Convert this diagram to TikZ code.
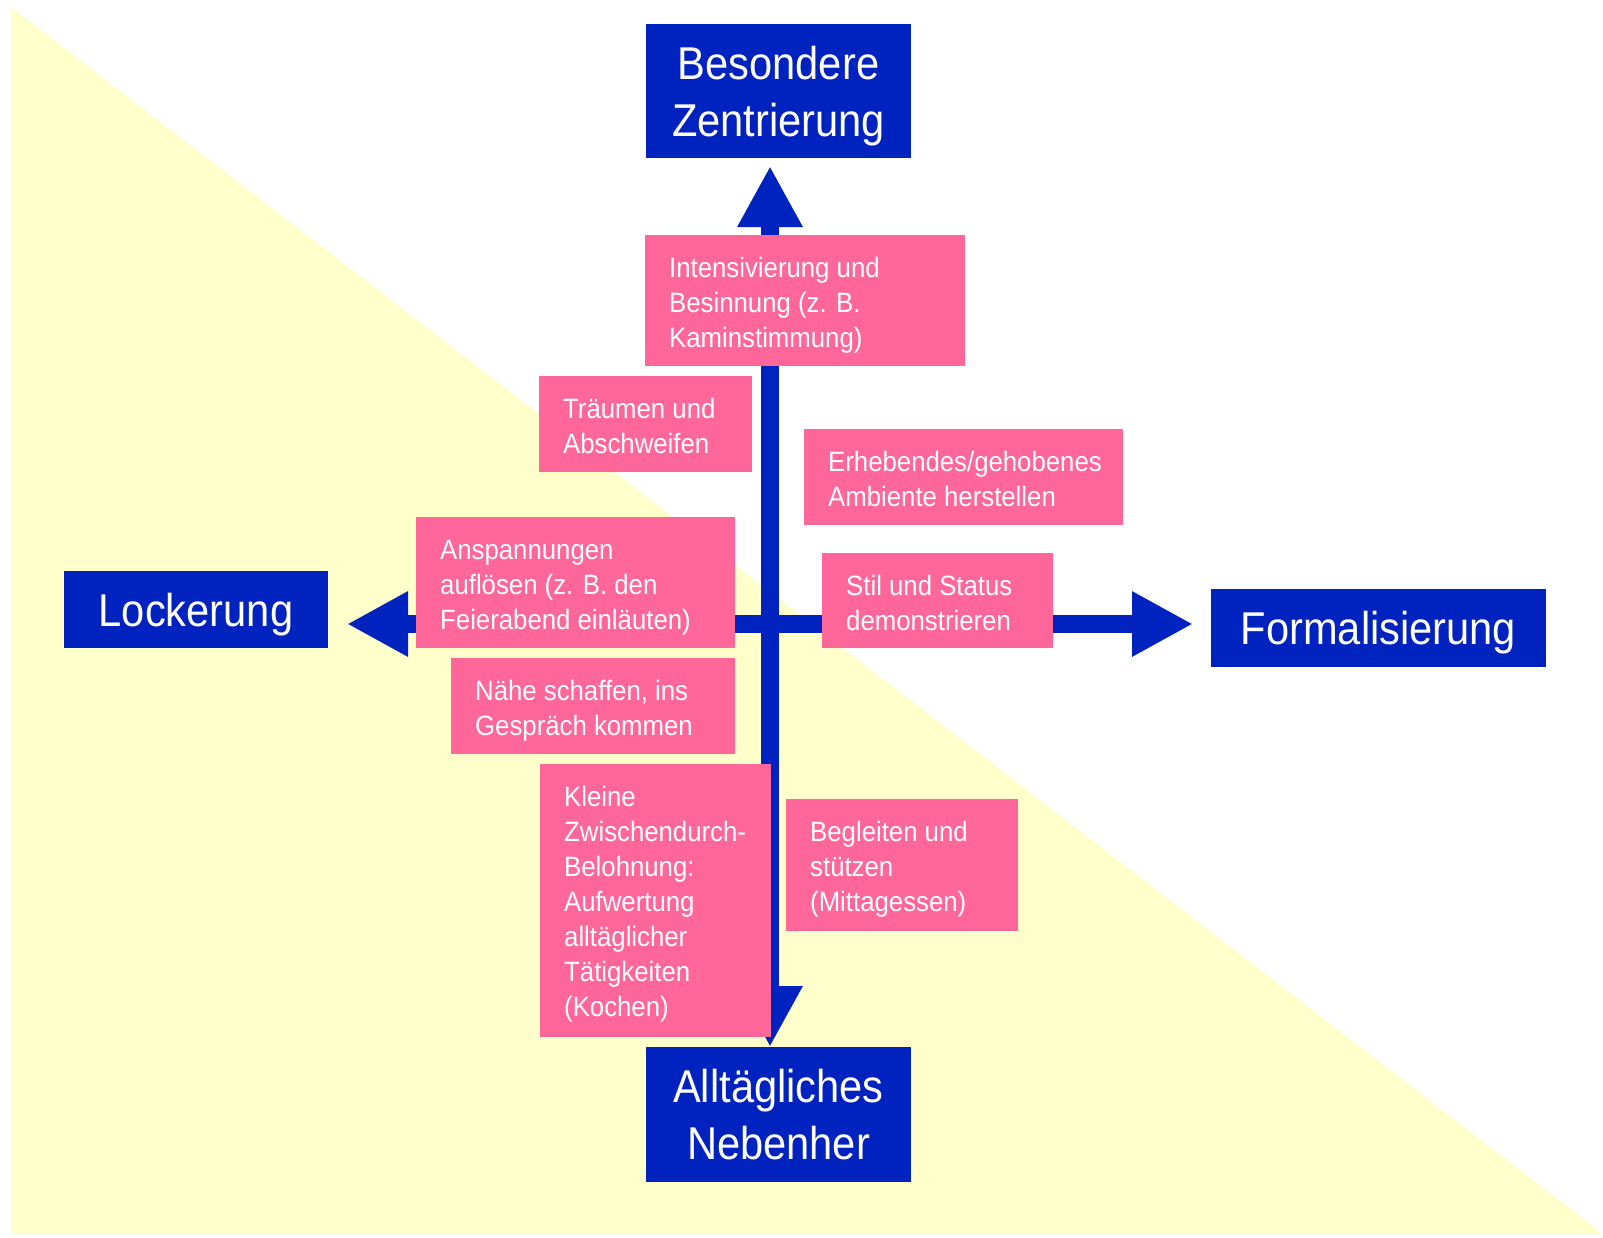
\documentclass[tikz,border=0pt]{standalone}
\usepackage{fontspec}
\setmainfont{Liberation Sans}
\newfontfamily\boxfont{Liberation Sans}[FakeStretch=0.92]
\newfontfamily\polefont{Liberation Sans}[FakeStretch=0.905]
\usetikzlibrary{arrows.meta}
\definecolor{poleblue}{RGB}{0,34,190}
\definecolor{notepink}{RGB}{255,102,153}
\definecolor{paleyellow}{RGB}{255,255,204}
% lines of a note, aligned on the baseline of the first line
\newcommand\notelines[1]{\begin{tabular}[t]{@{}l@{}}#1\end{tabular}}
\tikzset{
  pole/.style={fill=poleblue, text=white, align=center, inner sep=0pt,
    text depth=0pt, font=\polefont\fontsize{46}{57}\selectfont},
  notebox/.style={fill=notepink, inner sep=0pt, anchor=north west},
  notetext/.style={text=white, inner sep=0pt, anchor=base west,
    font=\boxfont\fontsize{28}{35}\selectfont},
  axis/.style={draw=poleblue, line width=18pt,
    {Triangle[length=61pt,width=61pt]}-{Triangle[length=61pt,width=61pt]}},
}
\begin{document}
\begin{tikzpicture}[x=1pt,y=-1pt]
  \useasboundingbox (0,0) rectangle (1603,1237);
  \fill[white] (0,0) rectangle (1603,1237);
  % pale background wedge
  \fill[paleyellow] (11,7) -- (11,1234) -- (1603,1234) -- cycle;

  % the two axes
  \coordinate (vtop) at (770,166);
  \coordinate (vbot) at (770,1047);
  \coordinate (hleft) at (347,624);
  \coordinate (hright) at (1193,624);
  \draw[axis] (vtop) -- (vbot);
  \draw[axis] (hleft) -- (hright);

  % pink notes
  \node[notebox, minimum width=320pt, minimum height=131pt] (intens) at (645,235) {};
  \node[notetext] (intensT) at ([xshift=24pt,yshift=-42pt]intens.north west)
    {\notelines{Intensivierung und\\Besinnung (z. B.\\Kaminstimmung)}};

  \node[notebox, minimum width=213pt, minimum height=96pt] (traum) at (539,376) {};
  \node[notetext] (traumT) at ([xshift=24pt,yshift=-42pt]traum.north west)
    {\notelines{Träumen und\\Abschweifen}};

  \node[notebox, minimum width=319pt, minimum height=96pt] (erheb) at (804,429) {};
  \node[notetext] (erhebT) at ([xshift=24pt,yshift=-42pt]erheb.north west)
    {\notelines{Erhebendes/gehobenes\\Ambiente herstellen}};

  \node[notebox, minimum width=319pt, minimum height=131pt] (anspann) at (416,517) {};
  \node[notetext] (anspannT) at ([xshift=24pt,yshift=-42pt]anspann.north west)
    {\notelines{Anspannungen\\auflösen (z. B. den\\Feierabend einläuten)}};

  \node[notebox, minimum width=231pt, minimum height=95pt] (stil) at (822,553) {};
  \node[notetext] (stilT) at ([xshift=24pt,yshift=-42pt]stil.north west)
    {\notelines{Stil und Status\\demonstrieren}};

  \node[notebox, minimum width=284pt, minimum height=96pt] (naehe) at (451,658) {};
  \node[notetext] (naeheT) at ([xshift=24pt,yshift=-42pt]naehe.north west)
    {\notelines{Nähe schaffen, ins\\Gespräch kommen}};

  \node[notebox, minimum width=231pt, minimum height=273pt] (kleine) at (540,764) {};
  \node[notetext] (kleineT) at ([xshift=24pt,yshift=-42pt]kleine.north west)
    {\notelines{Kleine\\Zwischendurch-\\Belohnung:\\Aufwertung\\alltäglicher\\Tätigkeiten\\(Kochen)}};

  \node[notebox, minimum width=232pt, minimum height=132pt] (begl) at (786,799) {};
  \node[notetext] (beglT) at ([xshift=24pt,yshift=-42pt]begl.north west)
    {\notelines{Begleiten und\\stützen\\(Mittagessen)}};

  % blue poles
  \node[pole, minimum width=265pt, minimum height=134pt] (zentr) at (778.5,91)
    {Besondere\\Zentrierung};
  \node[pole, minimum width=264pt, minimum height=77pt] (locker) at (196,609.5)
    {Lockerung};
  \node[pole, minimum width=335pt, minimum height=78pt] (formal) at (1378.5,628)
    {Formalisierung};
  \node[pole, minimum width=265pt, minimum height=135pt] (alltag) at (778.5,1114.5)
    {Alltägliches\\Nebenher};
\end{tikzpicture}
\end{document}
